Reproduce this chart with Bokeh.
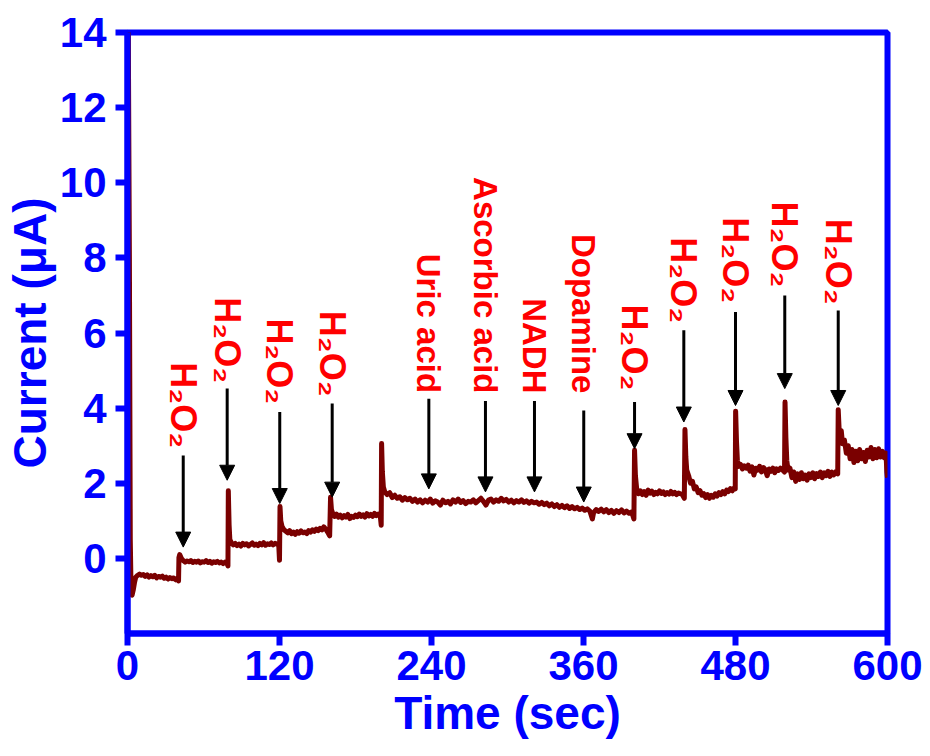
import numpy as np
from bokeh.plotting import figure
from bokeh.models import (ColumnDataSource, Range1d, FixedTicker, Arrow, NormalHead, Title)
from bokeh.core.properties import value
from bokeh.embed import file_html
from bokeh.resources import INLINE

# ---------------- data ----------------
time_s = [
    0.5, 1.5, 2.2, 2.8, 3.6, 4.5, 5.5, 6.5, 8, 9.5, 11, 12.5, 14, 15.5, 17, 18.5, 20, 21.5, 23, 24.5,
    26, 27.5, 29, 30.5, 32, 33.5, 35, 36.5, 38, 39.5, 40.3,
    40.6, 41.2, 42.5, 44, 45.5, 47, 48.5, 50, 51.5, 53, 54.5, 56, 57.5, 59, 60.5, 62, 63.5, 65, 66.5,
    68, 69.5, 71, 72.5, 74, 75.5, 77, 78.5, 79.3,
    79.6, 80.2, 80.8, 82, 83.5, 85, 86.5, 88, 89.5, 91, 92.5, 94, 95.5, 97, 98.5, 100, 101.5, 103,
    104.5, 106, 107.5, 109, 110.5, 112, 113.5, 115, 116.5, 118, 119.4, 120,
    120.4, 121, 122, 123.5, 125, 126.5, 128, 129.5, 131, 132.5, 134, 135.5, 137, 138.5, 140, 141.5,
    143, 144.5, 146, 147.5, 149, 150.5, 152, 153.5, 155, 156.5, 158, 159.6,
    160.3, 161, 162, 163.5, 165, 166.5, 168, 169.5, 171, 172.5, 174, 175.5, 177, 178.5, 180, 181.5,
    183, 184.5, 186, 187.5, 189, 190.5, 192, 193.5, 195, 196.5, 198, 199.5, 200.3,
    200.6, 201.2, 202, 203, 205, 207, 209, 211, 213, 215, 217, 219, 221, 223, 225, 227, 229, 231,
    233, 235, 237, 239, 241, 243, 245, 247, 249, 251, 253, 255, 257, 259, 261, 263, 265, 267, 269,
    271, 273, 275, 277, 279, 281, 283, 285, 287, 289, 291, 293, 295, 297, 299, 301, 303, 305, 307,
    309, 311, 313, 315, 317, 319, 321, 323, 325, 327, 329, 331, 333, 335, 337, 339, 341, 343, 345,
    347, 349, 351, 353, 355, 357, 359, 361, 363, 365, 367, 368, 370, 372, 374, 376, 378, 380, 382,
    384, 386, 388, 390, 392, 394, 396, 398, 399.8,
    400.3, 401, 402, 403.5, 405, 406.5, 408, 409.5, 411, 412.5, 414, 415.5, 417, 418.5, 420, 421.5,
    423, 424.5, 426, 427.5, 429, 430.5, 432, 433.5, 435, 436.5, 438, 439.6,
    440.1, 440.8, 441.5, 443, 444.5, 446, 447.5, 449, 450.5, 452, 453.5, 455, 456.5, 458, 459.5, 461,
    462.5, 464, 465.5, 467, 468.5, 470, 471.5, 473, 474.5, 476, 477.5, 479, 479.8,
    480.1, 480.8, 481.5, 482.5, 484, 485.5, 487, 488.5, 490, 491.5, 493, 494.5, 496, 497.5, 499,
    500.5, 502, 503.5, 505, 506.5, 508, 509.5, 511, 512.5, 514, 515.5, 517, 518.7,
    519.1, 519.8, 520.5, 521.5, 523, 524.5, 526, 527.5, 529, 530.5, 532, 533.5, 535, 536.5, 538,
    539.5, 541, 542.5, 544, 545.5, 547, 548.5, 550, 551.5, 553, 554.5, 556, 557.5, 559, 560.7,
    561.1, 561.8, 562.5, 563.5, 564.5, 566, 567.5, 569, 570.5, 572, 573.5, 575, 576.5, 578, 579.5,
    581, 582.5, 584, 585.5, 587, 588.5, 590, 591.5, 593, 594.5, 596, 597.5, 598.8, 599.5, 600,
]
current_uA = [
    15.0, 8.0, 0.5, -0.8, -0.98, -0.85, -0.65, -0.5, -0.45, -0.42, -0.45, -0.43, -0.48, -0.44, -0.5,
    -0.46, -0.49, -0.45, -0.52, -0.48, -0.5, -0.47, -0.53, -0.5, -0.55, -0.51, -0.54, -0.52, -0.57,
    -0.53, -0.6,
    0.02, 0.1, 0.0, -0.06, -0.1, -0.07, -0.09, -0.06, -0.11, -0.08, -0.1, -0.07, -0.12, -0.09, -0.1,
    -0.06, -0.11, -0.08, -0.13, -0.09, -0.11, -0.08, -0.12, -0.1, -0.14, -0.1, -0.13, -0.2,
    1.8, 0.9, 0.5, 0.42, 0.36, 0.4, 0.34, 0.38, 0.33, 0.4, 0.36, 0.39, 0.33, 0.37, 0.41, 0.35, 0.38,
    0.34, 0.4, 0.36, 0.42, 0.35, 0.39, 0.37, 0.41, 0.36, 0.4, 0.38, 0.35, -0.05,
    1.38, 1.0, 0.85, 0.76, 0.72, 0.68, 0.74, 0.66, 0.7, 0.64, 0.71, 0.67, 0.73, 0.68, 0.7, 0.66,
    0.74, 0.7, 0.76, 0.72, 0.78, 0.74, 0.8, 0.76, 0.84, 0.78, 0.7, 0.6,
    1.63, 1.3, 1.2, 1.12, 1.18, 1.1, 1.15, 1.08, 1.14, 1.1, 1.17, 1.06, 1.12, 1.09, 1.15, 1.11,
    1.18, 1.12, 1.16, 1.1, 1.19, 1.13, 1.17, 1.12, 1.2, 1.14, 1.18, 1.15, 0.88,
    3.06, 2.3, 1.9, 1.78, 1.7, 1.75, 1.62, 1.68, 1.6, 1.64, 1.55, 1.62, 1.56, 1.6, 1.52, 1.58, 1.5,
    1.56, 1.48, 1.55, 1.5, 1.58, 1.47, 1.53, 1.5, 1.42, 1.55, 1.48, 1.52, 1.45, 1.56, 1.5, 1.58,
    1.49, 1.54, 1.46, 1.52, 1.5, 1.56, 1.48, 1.54, 1.6, 1.52, 1.42, 1.55, 1.58, 1.5, 1.56, 1.52,
    1.6, 1.53, 1.57, 1.5, 1.55, 1.48, 1.54, 1.5, 1.56, 1.49, 1.53, 1.47, 1.52, 1.48, 1.5, 1.44,
    1.49, 1.43, 1.47, 1.4, 1.45, 1.38, 1.43, 1.36, 1.41, 1.35, 1.4, 1.33, 1.38, 1.32, 1.36, 1.3,
    1.34, 1.28, 1.32, 1.26, 1.05, 1.22, 1.3, 1.25, 1.31, 1.24, 1.3, 1.22, 1.28, 1.2, 1.27, 1.22,
    1.29, 1.21, 1.26, 1.2, 1.24, 1.05,
    2.88, 2.2, 1.85, 1.72, 1.8, 1.7, 1.78, 1.68, 1.82, 1.74, 1.79, 1.7, 1.76, 1.72, 1.8, 1.73, 1.77,
    1.7, 1.75, 1.71, 1.78, 1.72, 1.76, 1.7, 1.74, 1.72, 1.7, 1.6,
    3.43, 2.7, 2.35, 2.2, 2.0, 2.05, 1.85, 1.9, 1.75, 1.8, 1.68, 1.72, 1.62, 1.7, 1.6, 1.68, 1.63,
    1.72, 1.66, 1.75, 1.7, 1.78, 1.72, 1.82, 1.78, 1.86, 1.8, 1.88, 1.85,
    3.92, 3.1, 2.6, 2.45, 2.5, 2.38, 2.46, 2.4, 2.48, 2.32, 2.44, 2.22, 2.4, 2.35, 2.45, 2.3, 2.42,
    2.36, 2.2, 2.38, 2.32, 2.4, 2.28, 2.38, 2.34, 2.4, 2.36, 2.3,
    4.16, 3.2, 2.6, 2.35, 2.4, 2.15, 2.3, 2.05, 2.25, 2.1, 2.28, 2.12, 2.22, 2.08, 2.25, 2.15, 2.28,
    2.12, 2.26, 2.18, 2.3, 2.15, 2.28, 2.2, 2.32, 2.18, 2.3, 2.22, 2.3, 2.25,
    3.96, 3.45, 3.25, 3.4, 3.05, 3.15, 2.8, 3.0, 2.65, 2.9, 2.55, 2.85, 2.6, 2.9, 2.65, 2.82, 2.58,
    2.88, 2.7, 2.95, 2.65, 2.9, 2.68, 2.92, 2.7, 2.85, 2.68, 2.8, 2.3, 2.15,
]

# injection markers (arrows) and their labels
inj_time = [44.0, 78.7, 120.2, 161.6, 237.9, 282.6, 321.3, 360.2, 400.3, 439.2, 480.0, 518.9, 561.1]
arrow_top = [2.74, 4.52, 3.90, 4.12, 4.25, 4.19, 4.19, 3.94, 4.16, 6.07, 6.56, 7.00, 6.60]
arrow_tip = [0.30, 2.08, 1.46, 1.63, 1.85, 1.77, 1.77, 1.50, 2.92, 3.63, 4.07, 4.52, 4.07]
label_bottom = [2.93, 4.66, 4.10, 4.30, 4.40, 4.39, 4.39, 4.39, 4.47, 6.26, 6.79, 7.21, 6.75]
inj_label = ["H₂O₂", "H₂O₂", "H₂O₂", "H₂O₂", "Uric acid", "Ascorbic acid", "NADH", "Dopamine",
             "H₂O₂", "H₂O₂", "H₂O₂", "H₂O₂", "H₂O₂"]

x_ticks = [0, 120, 240, 360, 480, 600]
y_ticks = [0, 2, 4, 6, 8, 10, 12, 14]

BLUE = "#0000FF"
FONT = "Liberation Sans"
label_sizes = ["36px" if s.startswith("H") else "33px" for s in inj_label]

p = figure(frame_width=760, frame_height=601,
           min_border_left=127, min_border_right=41, min_border_top=32, min_border_bottom=121,
           x_range=Range1d(0, 600), y_range=Range1d(-2, 14),
           output_backend="svg", toolbar_location=None,
           background_fill_color="white", border_fill_color="white")

p.xgrid.visible = False
p.ygrid.visible = False
p.outline_line_color = BLUE
p.outline_line_width = 6
p.outline_line_alpha = 1.0

for ax, ticks in ((p.xaxis[0], x_ticks), (p.yaxis[0], y_ticks)):
    ax.ticker = FixedTicker(ticks=ticks)
    ax.axis_line_color = BLUE
    ax.axis_line_width = 6
    ax.major_tick_line_color = BLUE
    ax.major_tick_line_width = 6
    ax.major_tick_out = 12
    ax.major_tick_in = 0
    ax.minor_tick_line_color = None
    ax.major_label_text_color = BLUE
    ax.major_label_text_font = FONT
    ax.major_label_text_font_style = "bold"
    ax.major_label_text_font_size = "42px"
p.xaxis[0].major_label_standoff = 5
p.yaxis[0].major_label_standoff = 9

# trace
p.line(time_s, current_uA, line_color="#7A0000", line_width=5, line_join="round")

# arrows
asrc = ColumnDataSource(dict(t=inj_time, top=arrow_top, tip=arrow_tip))
p.add_layout(Arrow(source=asrc, x_start="t", y_start="top", x_end="t", y_end="tip",
                   line_color="black", line_width=3,
                   end=NormalHead(size=15, fill_color="black", line_color="black", line_width=1)))

# labels (rotated, reading top to bottom)
lsrc = ColumnDataSource(dict(t=inj_time, y=label_bottom, text=inj_label, size=label_sizes))
p.text(x="t", y="y", text="text", source=lsrc, angle=-np.pi / 2,
       text_align="right", text_baseline="middle",
       text_font=value(FONT), text_font_style="bold", text_font_size="size",
       text_color="#FF0000")

# axis titles as Title panels (allow offset from the frame centre)
p.add_layout(Title(text="Time (sec)", align="center", offset=24, standoff=5,
                   text_font=FONT, text_font_style="bold", text_font_size="46px",
                   text_color=BLUE), "below")
p.add_layout(Title(text="Current (μA)", align="center", offset=-20, standoff=2,
                   text_font=FONT, text_font_style="bold", text_font_size="46px",
                   text_color=BLUE), "left")

open("out.html", "w").write(file_html(p, INLINE))
